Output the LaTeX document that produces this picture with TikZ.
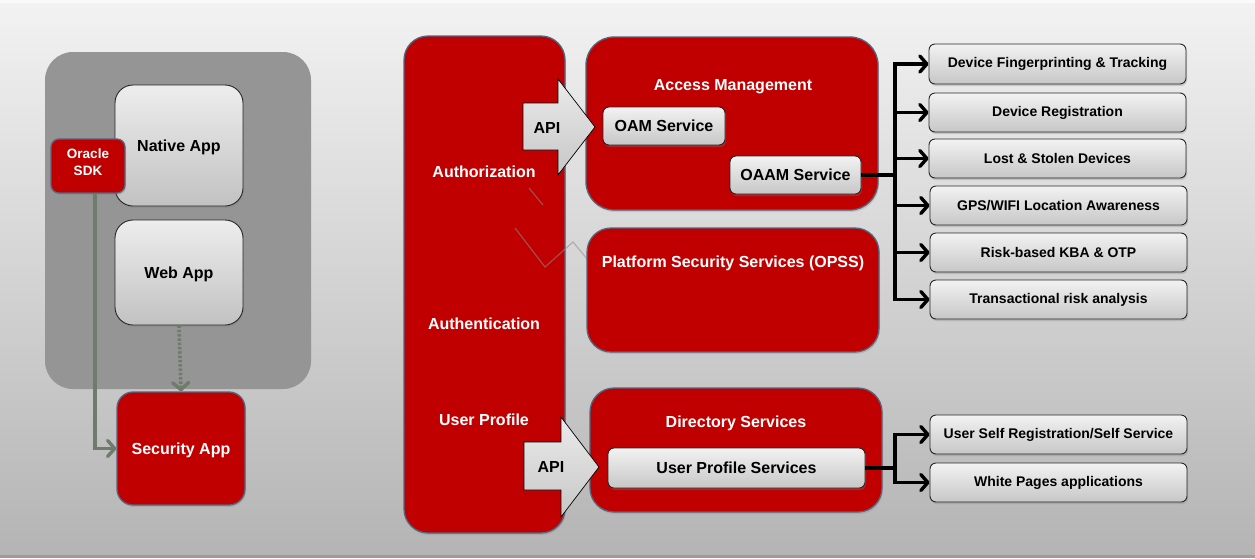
\documentclass[tikz,border=0pt]{standalone}
\usepackage{fontspec}
\setmainfont{Liberation Sans}
\usetikzlibrary{arrows.meta,shadows}
\definecolor{ored}{HTML}{C00000}
\definecolor{redge}{HTML}{56657E}
\definecolor{contgray}{HTML}{959595}
\definecolor{sdkline}{HTML}{6E7C6B}
\definecolor{bgtop}{HTML}{F2F2F2}
\definecolor{bgbot}{HTML}{B4B4B4}
\begin{document}
\begin{tikzpicture}[x=1pt,y=-1pt,
  bigfont/.style={font=\fontsize{16}{19}\selectfont\bfseries},
  smallfont/.style={font=\fontsize{14}{16}\selectfont\bfseries},
  redbox/.style={draw=redge,line width=1.3pt,fill=ored,inner sep=0pt,
    drop shadow={opacity=0.25,shadow xshift=1pt,shadow yshift=-2pt}},
  appbox/.style={draw=black!85,line width=0.9pt,top color=white!93!black,bottom color=white!76!black,
    rounded corners=18pt,inner sep=0pt,bigfont,
    drop shadow={opacity=0.25,shadow xshift=1pt,shadow yshift=-2pt}},
  svcbox/.style={draw=black!85,line width=0.9pt,top color=white!95!black,bottom color=white!78!black,
    rounded corners=6pt,inner sep=0pt,
    drop shadow={opacity=0.3,shadow xshift=1pt,shadow yshift=-2pt}},
  conn/.style={line width=3.6pt,black,-{Straight Barb[length=7pt,width=16pt,line width=3.4pt,round]}},
  sdkconn/.style={line width=3.6pt,sdkline,-{Straight Barb[length=7pt,width=16pt,line width=3.4pt,round]}},
  apiarrow/.style={draw=black,line width=0.7pt,top color=white!92!black,bottom color=white!78!black},
  whitetext/.style={text=white,bigfont},
]
% background
\useasboundingbox (0,0) rectangle (1255,558);
\fill[top color=bgtop,bottom color=bgbot] (0,3) rectangle (1255,555);
\fill[white!98!black] (0,0) rectangle (1255,3);
\fill[white!61!black] (0,555) rectangle (1255,558);

% left group
\node[fill=contgray,rounded corners=28pt,minimum width=266pt,minimum height=337pt,inner sep=0pt] (cont) at (178,220.5) {};
\node[appbox,minimum width=128pt,minimum height=121pt,text depth=-2pt] (native) at (179,145.5) {Native App};
\node[appbox,minimum width=128pt,minimum height=105pt,text depth=-2pt] (web) at (179,272.5) {Web App};
\node[redbox,rounded corners=8pt,minimum width=74pt,minimum height=54pt,text=white,align=center,
  font=\fontsize{13.5}{17}\selectfont\bfseries,text depth=7pt] (sdk) at (88,166) {Oracle\\SDK};
\node[redbox,rounded corners=16pt,minimum width=128pt,minimum height=113pt,whitetext,text depth=-2pt] (sec) at (181,448.5) {Security App};
\coordinate (sdkout) at ([xshift=7pt]sdk.south);
\coordinate (bend) at (sdkout |- sec.west);
\draw[sdkconn] (sdkout) -- (bend) -- (sec.west);
\draw[sdkconn,dash pattern=on 2.5pt off 1.8pt] (web.south) -- (sec.north);

% tall box
\node[redbox,rounded corners=24pt,minimum width=161pt,minimum height=497pt] (tall) at (484.5,284.5) {};
\node[whitetext] (authz) at (484,172) {Authorization};
\node[whitetext] (authn) at (484,324) {Authentication};
\node[whitetext] (uprof) at (484,420) {User Profile};
% faint zigzag
\draw[black!45,opacity=0.55,line width=1.2pt] (529,188) -- (543,205);
\draw[black!45,opacity=0.55,line width=1.2pt] (515,228) -- (545,267) -- (573,242) -- (588,260);

% access management
\node[redbox,rounded corners=28pt,minimum width=292pt,minimum height=173pt] (am) at (732,123.5) {};
\node[whitetext] (amt) at (733,87) {Access Management};
\node[svcbox,bigfont,minimum width=122pt,minimum height=38pt] (oam) at (664,126) {OAM Service};
\node[svcbox,bigfont,minimum width=131pt,minimum height=38pt] (oaam) at (795.5,175) {OAAM Service};

% api arrow 1
\path[apiarrow] (523,103) -- (558,103) -- (558,79) -- (595,127) -- (558,175) -- (558,150) -- (523,150) -- cycle;
\node[bigfont] (api1) at (547,128) {API};

% platform security services
\node[redbox,rounded corners=24pt,minimum width=292pt,minimum height=124pt] (pss) at (733,290) {};
\node[whitetext] (psst) at (733,263) {Platform Security Services (OPSS)};

% directory services
\node[redbox,rounded corners=24pt,minimum width=292pt,minimum height=124pt] (ds) at (736,450) {};
\node[whitetext] (dst) at (736,423) {Directory Services};
\node[svcbox,bigfont,minimum width=257pt,minimum height=40pt] (ups) at (736.5,468) {User Profile Services};

% api arrow 2
\path[apiarrow] (524,442) -- (561,442) -- (561,417) -- (599,467) -- (561,517) -- (561,490) -- (524,490) -- cycle;
\node[bigfont] (api2) at (551,467) {API};

% right boxes
\node[svcbox,smallfont,minimum width=257pt,minimum height=40pt] (r1) at (1057.5,64) {Device Fingerprinting \& Tracking};
\node[svcbox,smallfont,minimum width=257pt,minimum height=39pt] (r2) at (1057.5,112.5) {Device Registration};
\node[svcbox,smallfont,minimum width=257pt,minimum height=39pt] (r3) at (1057.5,158.5) {Lost \& Stolen Devices};
\node[svcbox,smallfont,minimum width=257pt,minimum height=39pt] (r4) at (1058.5,205.5) {GPS/WIFI Location Awareness};
\node[svcbox,smallfont,minimum width=257pt,minimum height=39pt] (r5) at (1058.5,252.5) {Risk-based KBA \& OTP};
\node[svcbox,smallfont,minimum width=257pt,minimum height=39pt] (r6) at (1058.5,299.5) {Transactional risk analysis};
\node[svcbox,smallfont,minimum width=257pt,minimum height=39pt] (r7) at (1058.5,434.5) {User Self Registration/Self Service};
\node[svcbox,smallfont,minimum width=257pt,minimum height=39pt] (r8) at (1058.5,482.5) {White Pages applications};

% connectors
\coordinate (t1) at (895,175);
\draw[line width=3.6pt,black] (oaam.east) -- (t1);
\foreach \b in {r1,r2,r3,r4,r5,r6} \draw[conn] (t1) |- (\b.west);
\coordinate (t2) at (895,468);
\draw[line width=3.6pt,black] (ups.east) -- (t2);
\foreach \b in {r7,r8} \draw[conn] (t2) |- (\b.west);
\end{tikzpicture}
\end{document}
